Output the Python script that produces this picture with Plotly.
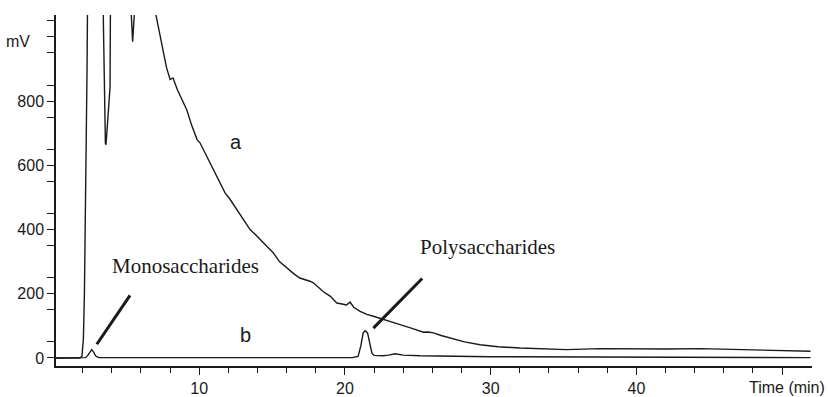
import plotly.graph_objects as go

# Curve a (sample chromatogram)
a_x = [0.17, 1.8, 1.95, 2.05, 2.12, 2.2, 2.3, 2.4, 2.5, 3.3, 3.42, 3.5, 3.56, 3.6, 3.65, 3.75, 3.88, 3.97, 4.1,
       5.2, 5.3, 5.43, 5.55, 5.65, 5.8, 6.8, 7.03, 7.3, 7.52, 7.75, 8.0, 8.2, 8.5, 8.9, 9.14, 9.5, 9.85, 10.05,
       10.28, 10.6, 11.08, 11.4, 11.77, 12.1, 12.57, 13.0, 13.49, 13.9, 14.29, 14.7, 15.09, 15.5, 16.0, 16.5,
       16.9, 17.3, 17.6, 17.83, 18.2, 18.5, 19.0, 19.44, 19.8, 20.1, 20.35, 20.6, 21.04, 21.5, 21.95, 22.8,
       23.78, 24.6, 25.38, 25.7, 26.07, 26.6, 27.2, 28.2, 29.27, 30.5, 32.0, 33.5, 35.2, 37.5, 40.0, 42.0,
       44.4, 46.5, 48.9, 50.5, 51.95]
a_y = [0, 0, 5, 60, 200, 500, 900, 1500, 3000, 3000, 1050, 750, 668, 664, 690, 760, 845, 1100, 3000,
       3000, 1100, 985, 1060, 1150, 1400, 1400, 1068, 1010, 960, 905, 867, 872, 835, 795, 773, 722, 680, 670,
       649, 620, 581, 550, 514, 495, 462, 432, 400, 382, 363, 345, 327, 300, 280, 262,
       249, 244, 239, 234, 218, 207, 192, 171, 168, 165, 174, 158, 145, 136, 130, 117,
       104, 92, 80, 81, 78, 70, 62, 50, 41, 35, 31, 28, 26, 29, 28, 28,
       29, 27, 26, 24, 21]

# Curve b (standard / purified sample)
b_x = [0.17, 1.95, 2.2, 2.35, 2.5, 2.62, 2.75, 2.9, 3.1, 20.5, 20.9, 21.1, 21.25, 21.38, 21.55, 21.7, 21.85,
       22.0, 22.6, 23.0, 23.44, 24.0, 25.15, 30.0, 40.0, 51.95]
b_y = [0, 0, 1, 8, 20, 26, 18, 6, 1, 1, 5, 40, 78, 85, 78, 40, 15, 8, 7, 9, 13, 9, 7, 4, 2, 1]

# Annotation text and pointer lines (data coordinates)
labels = ["a", "b", "Monosaccharides", "Polysaccharides"]
label_x = [12.53, 13.14, 9.09, 29.75]
label_y = [671, 73, 285, 347]
pointer_x0 = [2.97, 21.95]
pointer_y0 = [42.7, 93]
pointer_x1 = [5.25, 25.3]
pointer_y1 = [195, 247.6]

y_ticks = [0, 200, 400, 600, 800, 1000]
y_ticktext = ["0", "200", "400", "600", "800", ""]
x_ticks = [10, 20, 30, 40, 50]
x_ticktext = ["10", "20", "30", "40", ""]
x_minor = [2, 4, 6, 8, 12, 14, 16, 18, 22, 24, 26, 28, 32, 34, 36, 38, 42, 44, 46, 48]
y_minor = [v for v in range(50, 1100, 100)]

fig = go.Figure()
fig.add_trace(go.Scatter(x=a_x, y=a_y, mode="lines", line=dict(color="#1a1a1a", width=1.4),
                         showlegend=False, hoverinfo="skip"))
fig.add_trace(go.Scatter(x=b_x, y=b_y, mode="lines", line=dict(color="#1a1a1a", width=1.4),
                         showlegend=False, hoverinfo="skip"))

sans = "Liberation Sans, Arial, sans-serif"
serif = "Liberation Serif, Times New Roman, serif"

for t, x, y in zip(labels, label_x, label_y):
    fam = sans if len(t) == 1 else serif
    size = 20 if len(t) == 1 else 21
    fig.add_annotation(x=x, y=y, text=t, showarrow=False, xref="x", yref="y",
                       font=dict(family=fam, size=size, color="#1a1a1a"))

for x0, y0, x1, y1 in zip(pointer_x0, pointer_y0, pointer_x1, pointer_y1):
    fig.add_shape(type="line", x0=x0, y0=y0, x1=x1, y1=y1, xref="x", yref="y",
                  line=dict(color="#1a1a1a", width=3))

fig.add_annotation(x=1.0, y=0, xref="paper", yref="paper", text="Time (min)", showarrow=False,
                   xanchor="right", yanchor="middle", xshift=15, yshift=-21,
                   font=dict(family=sans, size=16, color="#1a1a1a"))
fig.add_annotation(x=0, y=1000, xref="paper", yref="y", text="mV", showarrow=False,
                   xanchor="right", yanchor="middle", xshift=-24, yshift=-5,
                   font=dict(family=sans, size=16, color="#1a1a1a"))

fig.update_layout(
    width=828, height=397,
    margin=dict(l=56, r=16, t=15, b=31),
    paper_bgcolor="white", plot_bgcolor="white",
    font=dict(family=sans, size=16, color="#1a1a1a"),
    xaxis=dict(range=[0.17, 52.05], showgrid=False, zeroline=False, showline=True, automargin=False,
               linecolor="#1a1a1a", linewidth=1.5, ticks="outside", ticklen=7, tickwidth=1.2,
               tickcolor="#1a1a1a", tickmode="array", tickvals=x_ticks, ticktext=x_ticktext,
               ticklabelstandoff=0,
               minor=dict(tickmode="array", tickvals=x_minor, ticks="outside", ticklen=5,
                          tickcolor="#1a1a1a", tickwidth=1.2, showgrid=False)),
    yaxis=dict(range=[-25, 1068], showgrid=False, zeroline=False, showline=True, automargin=False,
               linecolor="#1a1a1a", linewidth=1.5, ticks="outside", ticklen=7, tickwidth=1.2,
               tickcolor="#1a1a1a", tickmode="array", tickvals=y_ticks, ticktext=y_ticktext,
               minor=dict(tickmode="array", tickvals=y_minor, ticks="outside", ticklen=7,
                          tickcolor="#1a1a1a", tickwidth=1.2, showgrid=False)),
)

fig.write_html("out.html")
